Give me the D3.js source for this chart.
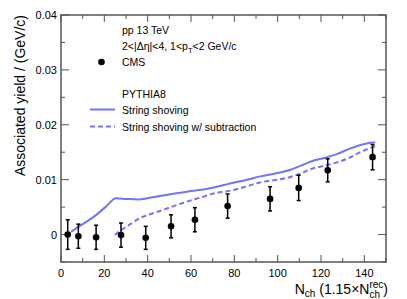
<!DOCTYPE html>
<html>
<head>
<meta charset="utf-8">
<script src="https://cdn.jsdelivr.net/npm/d3@7"></script>
<style>
body { margin: 0; background: #fff; }
svg { font-family: "Liberation Sans", Arial, sans-serif; }
</style>
</head>
<body>
<svg id="chart" width="407" height="299"></svg>
<script>
// CMS data points
var cmsN = [3.1, 8, 16.2, 27.7, 39.1, 50.8, 61.8, 76.9, 96.5, 109.7, 123.1, 143.8];
var cmsY = [0.0000, -0.0003, -0.0005, -0.0001, -0.0006, 0.0015, 0.0027, 0.0052, 0.0065, 0.0085, 0.0117, 0.0141];
var cmsErr = [0.0027, 0.0022, 0.0022, 0.0022, 0.0021, 0.0021, 0.0022, 0.0022, 0.0022, 0.0023, 0.0021, 0.0023];

// PYTHIA8 string shoving
var shoveN = [4.6, 10, 15.7, 20.5, 25.4, 30, 35.5, 41, 50, 58, 65.7, 72, 78, 85, 92, 100, 106, 111, 116, 122, 127, 133, 140, 145];
var shoveY = [0.0005, 0.0019, 0.0034, 0.0050, 0.0066, 0.0065, 0.0064, 0.0067, 0.0073, 0.0078, 0.0082, 0.0087, 0.0093, 0.0099, 0.0106, 0.0112, 0.0118, 0.0126, 0.0134, 0.0140, 0.0146, 0.0156, 0.0165, 0.0168];

// PYTHIA8 string shoving w/ subtraction
var subN = [24.9, 27, 30.3, 36.5, 41, 45.7, 50, 56.5, 64, 71.9, 78, 85, 91.8, 100, 106, 111, 115, 121, 127, 132, 137, 141, 145];
var subY = [-0.0001, 0.0006, 0.00145, 0.0030, 0.0037, 0.0043, 0.0049, 0.0058, 0.0067, 0.0076, 0.0080, 0.0087, 0.0095, 0.0100, 0.0105, 0.0112, 0.0119, 0.0125, 0.0131, 0.0138, 0.0148, 0.0155, 0.0161];

var xTicks = [0, 20, 40, 60, 80, 100, 120, 140];
var yTicks = [0, 0.01, 0.02, 0.03, 0.04];

var svg = d3.select("#chart");
var fLeft = 61, fRight = 386, fTop = 15, fBottom = 262;
var lineColor = "#7373ff";

var x = d3.scaleLinear().domain([0, 150]).range([fLeft, fRight]);
var y = d3.scaleLinear().domain([-0.005, 0.04]).range([fBottom, fTop]);

// frame
svg.append("rect")
    .attr("x", fLeft).attr("y", fTop)
    .attr("width", fRight - fLeft).attr("height", fBottom - fTop)
    .attr("fill", "none").attr("stroke", "#555").attr("stroke-width", 1.5);

var minorX = d3.range(0, 151, 10);
var minorY = d3.range(-0.005, 0.0401, 0.005);

var ticks = svg.append("g").attr("stroke", "#555").attr("stroke-width", 1);
minorX.forEach(function(v) {
    var len = (v % 20 === 0) ? 7 : 4;
    ticks.append("line").attr("x1", x(v)).attr("x2", x(v)).attr("y1", fBottom).attr("y2", fBottom - len);
    ticks.append("line").attr("x1", x(v)).attr("x2", x(v)).attr("y1", fTop).attr("y2", fTop + len);
});
minorY.forEach(function(v) {
    var major = Math.abs(Math.round(v * 100) - v * 100) < 1e-6;
    var len = major ? 8 : 4;
    ticks.append("line").attr("y1", y(v)).attr("y2", y(v)).attr("x1", fLeft).attr("x2", fLeft + len);
    ticks.append("line").attr("y1", y(v)).attr("y2", y(v)).attr("x1", fRight).attr("x2", fRight - len);
});

// tick labels
svg.append("g").selectAll("text")
    .data(xTicks).enter().append("text")
    .attr("x", function(d) { return x(d); })
    .attr("y", 277)
    .attr("text-anchor", "middle")
    .style("font-size", "11px")
    .text(function(d) { return d; });

svg.append("g").selectAll("text")
    .data(yTicks).enter().append("text")
    .attr("x", 57)
    .attr("y", function(d) { return y(d) + 4; })
    .attr("text-anchor", "end")
    .style("font-size", "11px")
    .text(function(d) { return d === 0 ? "0" : d3.format(".2f")(d); });

// axis titles
svg.append("text")
    .attr("transform", "translate(25," + fTop + ") rotate(-90)")
    .attr("text-anchor", "end")
    .style("font-size", "14px")
    .text("Associated yield / (GeV/c)");

var xt = svg.append("text").attr("y", 294).style("font-size", "14px");
xt.append("tspan").text("N");
xt.append("tspan").attr("dy", 3).style("font-size", "10px").text("ch");
xt.append("tspan").attr("dy", -3).text(" (1.15×N");
var rec = xt.append("tspan").attr("dy", -6).style("font-size", "10px").text("rec");
var recW = rec.node().getComputedTextLength();
var ch2 = xt.append("tspan").attr("dx", -recW).attr("dy", 10).style("font-size", "10px").text("ch");
var chW = ch2.node().getComputedTextLength();
xt.append("tspan").attr("dx", recW - chW).attr("dy", -4).text(")");
var bb = xt.node().getBBox();
xt.attr("x", 388 - bb.width);

// curves
var line = d3.line()
    .x(function(d) { return x(d[0]); })
    .y(function(d) { return y(d[1]); })
    .curve(d3.curveMonotoneX);

svg.append("path")
    .datum(d3.zip(shoveN, shoveY))
    .attr("d", line)
    .attr("fill", "none").attr("stroke", lineColor).attr("stroke-width", 2);

svg.append("path")
    .datum(d3.zip(subN, subY))
    .attr("d", line)
    .attr("fill", "none").attr("stroke", lineColor).attr("stroke-width", 2)
    .attr("stroke-dasharray", "5,3");

// CMS points
var pts = d3.zip(cmsN, cmsY, cmsErr);
var eb = svg.append("g").attr("stroke", "#000").attr("stroke-width", 1.5);
pts.forEach(function(p) {
    eb.append("line").attr("x1", x(p[0])).attr("x2", x(p[0]))
        .attr("y1", y(p[1] - p[2])).attr("y2", y(p[1] + p[2]));
    eb.append("line").attr("x1", x(p[0]) - 2).attr("x2", x(p[0]) + 2)
        .attr("y1", y(p[1] - p[2])).attr("y2", y(p[1] - p[2]));
    eb.append("line").attr("x1", x(p[0]) - 2).attr("x2", x(p[0]) + 2)
        .attr("y1", y(p[1] + p[2])).attr("y2", y(p[1] + p[2]));
});
svg.append("g").selectAll("circle")
    .data(pts).enter().append("circle")
    .attr("cx", function(d) { return x(d[0]); })
    .attr("cy", function(d) { return y(d[1]); })
    .attr("r", 3.3)
    .attr("fill", "#000");

// legend
var lg = svg.append("g").style("font-size", "10.5px");
lg.append("text").attr("x", 122).attr("y", 34).text("pp 13 TeV");
var t2 = lg.append("text").attr("x", 122).attr("y", 50);
t2.append("tspan").text("2<|Δη|<4, 1<p");
t2.append("tspan").attr("dy", 3).style("font-size", "7.5px").text("T");
t2.append("tspan").attr("dy", -3).text("<2 GeV/c");
lg.append("circle").attr("cx", 101.5).attr("cy", 62).attr("r", 3.3).attr("fill", "#000");
lg.append("text").attr("x", 122).attr("y", 66).text("CMS");
lg.append("text").attr("x", 122).attr("y", 98).text("PYTHIA8");
lg.append("line").attr("x1", 90).attr("x2", 115).attr("y1", 109.5).attr("y2", 109.5)
    .attr("stroke", lineColor).attr("stroke-width", 2);
lg.append("text").attr("x", 122).attr("y", 113.5).text("String shoving");
lg.append("line").attr("x1", 90).attr("x2", 115).attr("y1", 126.5).attr("y2", 126.5)
    .attr("stroke", lineColor).attr("stroke-width", 2).attr("stroke-dasharray", "5,3");
lg.append("text").attr("x", 122).attr("y", 130.5).text("String shoving w/ subtraction");
</script>
</body>
</html>
